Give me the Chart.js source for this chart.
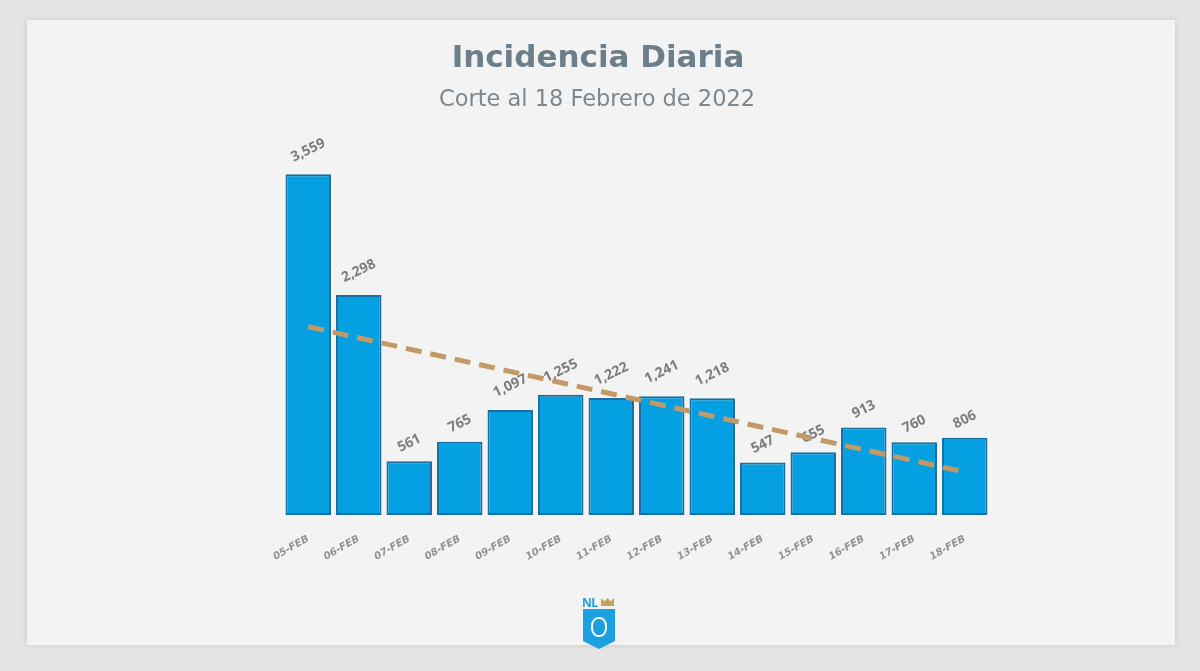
<!DOCTYPE html>
<html>
<head>
<meta charset="utf-8">
<script src="https://cdn.jsdelivr.net/npm/chart.js@4.4.0/dist/chart.umd.min.js"></script>
<style>
  html, body { margin: 0; padding: 0; }
  body { width: 1200px; height: 671px; background: #e4e4e4; position: relative; overflow: hidden; }
  #card { position: absolute; left: 27px; top: 20px; width: 1148px; height: 625px; background: #f3f3f3;
          box-shadow: 0 0 6px rgba(0,0,0,0.12); }
  #wrap { position: absolute; left: 0; top: 0; width: 1200px; height: 671px; }
  #logo { position: absolute; left: 580px; top: 594px; width: 40px; height: 60px; }
  #logo .nl { position: absolute; left: 2px; top: 0; font: bold 12px "Open Sans", sans-serif; color: #1a9fe0; letter-spacing: -0.5px; }
  #logo .crown { position: absolute; left: 21px; top: 4px; width: 13px; height: 8px; background: #c9a25a;
                 clip-path: polygon(0 100%, 0 0, 25% 40%, 50% 0, 75% 40%, 100% 0, 100% 100%); }
  #logo .shield { position: absolute; left: 3px; top: 15px; width: 32px; height: 40px; background: #1ba0e2;
                  clip-path: polygon(0 0, 100% 0, 100% 80%, 50% 100%, 0 80%); }
  #logo .mark { position: absolute; left: 11px; top: 23px; width: 12px; height: 16px; border: 2px solid #fff; border-radius: 45%; }
</style>
</head>
<body>
<div id="card"></div>
<div id="wrap"><canvas id="grafica" width="1200" height="671"></canvas></div>
<div id="logo"><div class="nl">NL</div><div class="crown"></div><div class="shield"></div><div class="mark"></div></div>
<script>
// DATOS
const titulo = 'Incidencia Diaria';
const subtitulo = 'Corte al 18 Febrero de 2022';
const fechas = ['05-FEB', '06-FEB', '07-FEB', '08-FEB', '09-FEB', '10-FEB', '11-FEB',
                '12-FEB', '13-FEB', '14-FEB', '15-FEB', '16-FEB', '17-FEB', '18-FEB'];
const casos = [3559, 2298, 561, 765, 1097, 1255, 1222, 1241, 1218, 547, 655, 913, 760, 806];
// tendencia (inicio y fin)
const tendencia = [1966, null, null, null, null, null, null, null, null, null, null, null, null, 448];

const ctx = document.getElementById('grafica');

// titulo centrado en toda la tarjeta
const encabezado = {
  id: 'encabezado',
  afterDraw(chart) {
    const c = chart.ctx;
    c.save();
    c.textAlign = 'center';
    c.textBaseline = 'middle';
    c.fillStyle = '#6c7e8a';
    c.font = 'bold 31px "DejaVu Sans", sans-serif';
    c.fillText(titulo, 598, 59);
    c.fillStyle = '#7d878f';
    c.font = '22.5px "DejaVu Sans", sans-serif';
    c.fillText(subtitulo, 597, 100);
    c.restore();
  }
};

// etiquetas de valor giradas sobre cada barra
const etiquetas = {
  id: 'etiquetas',
  beforeDatasetsDraw(chart) {
    const meta = chart.getDatasetMeta(1);
    const c = chart.ctx;
    c.save();
    c.font = 'bold 14px "Open Sans", sans-serif';
    c.fillStyle = '#7d7d7d';
    c.textAlign = 'center';
    c.textBaseline = 'middle';
    meta.data.forEach(function (bar, i) {
      const txt = casos[i].toLocaleString('en-US');
      const w = c.measureText(txt).width;
      c.save();
      c.translate(bar.x, bar.y - 6 - w * 0.5);
      c.rotate(-0.45);
      c.fillText(txt, 0, 0);
      c.restore();
    });
    c.restore();
  }
};

const grafica = new Chart(ctx, {
  data: {
    labels: fechas,
    datasets: [{
      type: 'line',
      data: tendencia,
      spanGaps: true,
      borderColor: '#c39a66',
      borderWidth: 5,
      borderDash: [16, 9],
      pointRadius: 0,
      order: 0
    }, {
      type: 'bar',
      data: casos,
      backgroundColor: '#05a0e2',
      borderColor: '#1a6d9e',
      borderWidth: 2,
      borderSkipped: false,
      barPercentage: 0.9,
      categoryPercentage: 1,
      order: 1
    }]
  },
  options: {
    responsive: false,
    animation: false,
    layout: { padding: { left: 283, right: 210, top: 132, bottom: 98 } },
    plugins: {
      legend: { display: false },
      tooltip: { enabled: false }
    },
    scales: {
      x: {
        grid: { display: false },
        border: { display: false },
        ticks: {
          color: '#929292',
          font: { family: 'DejaVu Sans', size: 10, weight: 'bold', style: 'italic' },
          minRotation: 30,
          maxRotation: 30,
          padding: 10
        }
      },
      y: {
        display: false,
        min: 0,
        max: 4000
      }
    }
  },
  plugins: [etiquetas, encabezado]
});
</script>
</body>
</html>
